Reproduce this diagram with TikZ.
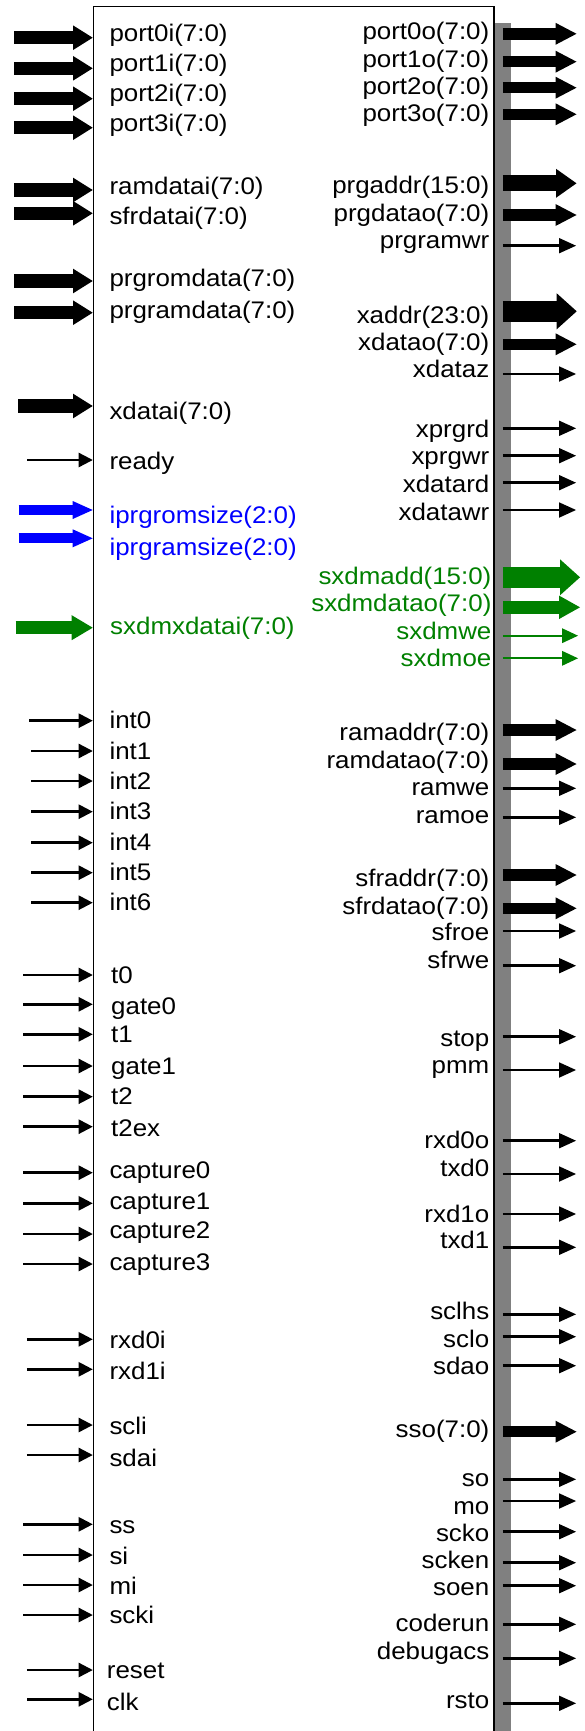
\documentclass[tikz,border=0pt]{standalone}
\usepackage{fontspec}
\setmainfont[FakeStretch=1.08]{Liberation Sans}
\usetikzlibrary{arrows.meta}

\definecolor{sigblue}{RGB}{0,0,255}
\definecolor{siggreen}{RGB}{0,128,0}
\definecolor{bargray}{RGB}{128,128,128}

\tikzset{
  lbl/.style={inner sep=0pt, text height=17.3pt, text depth=5pt, font=\fontsize{24}{28}\selectfont},
  inlbl/.style={lbl, anchor=west},
  outlbl/.style={lbl, anchor=east},
  inwire/.style={line width=2.5pt, -{Triangle[length=14pt,width=14.7pt,line width=0pt]}},
  outwire/.style={line width=2.5pt, -{Triangle[length=17pt,width=15.5pt,line width=0pt]}},
  inbus/.style={line width=13.3pt, -{Triangle[length=19.7pt,width=24.7pt,line width=0pt]}},
  outbus/.style={line width=11.5pt, -{Triangle[length=21pt,width=22pt,line width=0pt]}},
  widebus/.style={line width=16pt, -{Triangle[length=20.5pt,width=29pt,line width=0pt]}},
  hugebus/.style={line width=20.7pt, -{Triangle[length=20pt,width=36pt,line width=0pt]}}
}

\begin{document}
\begin{tikzpicture}[x=1pt,y=-1pt]
\useasboundingbox (0,0) rectangle (584,1731);
\clip (0,0) rectangle (584,1731);

% core outline and output rail
\node[fill=bargray, anchor=north west, minimum width=15.5pt, minimum height=1750pt, inner sep=0pt] (bar) at (495,23.3) {};
\node[draw, line width=1.5pt, anchor=north west, minimum width=400.6pt, minimum height=1800pt, inner sep=0pt] (box) at (92.7,6) {};

% input buses
\foreach \nm/\txt/\sx/\ay/\ty in {
  port0i/port0i(7:0)/14/37.7/35.8,
  port1i/port1i(7:0)/14/68.3/65.3,
  port2i/port2i(7:0)/14/98.7/95.3,
  port3i/port3i(7:0)/14/127.7/125.3,
  ramdatai/ramdatai(7:0)/14/190/188.7,
  sfrdatai/sfrdatai(7:0)/14/213.3/218.7,
  prgromdata/prgromdata(7:0)/14/281/280.3,
  prgramdata/prgramdata(7:0)/14/312.7/312,
  xdatai/xdatai(7:0)/18/406/413}
{
  \node[inlbl] (\nm) at (109.3,\ty) {\txt};
  \coordinate (\nm-s) at (\sx,\ay);
  \draw[inbus] (\nm-s) -- (\nm-s -| box.west);
}

\foreach \nm/\txt/\ay/\ty in {
  iprgromsize/iprgromsize(2:0)/510/517,
  iprgramsize/iprgramsize(2:0)/538.3/549.3}
{
  \node[inlbl, text=sigblue] (\nm) at (109.3,\ty) {\txt};
  \coordinate (\nm-s) at (18.6,\ay);
  \draw[sigblue, line width=10pt, -{Triangle[length=20pt,width=18pt,line width=0pt]}] (\nm-s) -- (\nm-s -| box.west);
}

\node[inlbl, text=siggreen] (sxdmxdatai) at (110,628.7) {sxdmxdatai(7:0)};
\coordinate (sxdmxdatai-s) at (15.6,627.7);
\draw[siggreen, line width=12.5pt, -{Triangle[length=21pt,width=25pt,line width=0pt]}] (sxdmxdatai-s) -- (sxdmxdatai-s -| box.west);

% single-bit inputs
\foreach \nm/\tx/\sx/\ay/\ty in {
  ready/109.3/27.3/460/463.7,
  int0/109.3/29/720.7/722,
  int1/109.3/31/751/753.7,
  int2/109.3/31/781/783,
  int3/109.3/31/811.7/813.7,
  int4/109.3/31/842.7/844.7,
  int5/109.3/31/872.7/874.7,
  int6/109.3/31/902.7/904.7,
  t0/111/23/975/977,
  gate0/111/23/1004.3/1008,
  t1/111/23/1034.3/1036.3,
  gate1/111/23/1066/1068,
  t2/111/23/1096.7/1098.7,
  t2ex/111/23/1126.7/1130,
  capture0/109.3/23/1172.7/1172,
  capture1/109.3/23/1203.3/1203.7,
  capture2/109.3/23/1234/1232.7,
  capture3/109.3/23/1264/1264.7,
  rxd0i/109.3/26.8/1339.3/1342.7,
  rxd1i/109.3/26.8/1369.3/1373.7,
  scli/109.3/26.8/1425/1428.7,
  sdai/109.3/26.8/1455/1460.3,
  ss/109.3/23/1524.3/1527,
  si/109.3/23/1555/1558,
  mi/109.3/23/1585/1588,
  scki/109.3/23/1615/1617.7,
  reset/106.7/26.8/1670/1672.7,
  clk/106.7/27.3/1699.3/1704.5}
{
  \node[inlbl] (\nm) at (\tx,\ty) {\nm};
  \coordinate (\nm-s) at (\sx,\ay);
  \draw[inwire] (\nm-s) -- (\nm-s -| box.west);
}

% output buses
\foreach \nm/\txt/\ay/\ty in {
  port0o/port0o(7:0)/33.8/33.7,
  port1o/port1o(7:0)/61.7/61.3,
  port2o/port2o(7:0)/87.7/88.7,
  port3o/port3o(7:0)/114.3/115.3,
  prgdatao/prgdatao(7:0)/215/215.3,
  xdatao/xdatao(7:0)/344.3/344.7,
  ramaddr/ramaddr(7:0)/730/734.3,
  ramdatao/ramdatao(7:0)/764/762.7,
  sfraddr/sfraddr(7:0)/875/880.3,
  sfrdatao/sfrdatao(7:0)/908.3/908.7,
  sso/sso(7:0)/1431.7/1431.3}
{
  \node[outlbl] (\nm) at (489.5,\ty) {\txt};
  \coordinate (\nm-e) at (576.5,\ay);
  \draw[outbus] (\nm-e -| bar.center) -- (\nm-e);
}

\node[outlbl] (prgaddr) at (489.5,187) {prgaddr(15:0)};
\coordinate (prgaddr-e) at (576.5,183.3);
\draw[widebus] (prgaddr-e -| bar.center) -- (prgaddr-e);

\node[outlbl] (xaddr) at (489.5,317) {xaddr(23:0)};
\coordinate (xaddr-e) at (576.7,311.3);
\draw[hugebus] (xaddr-e -| bar.center) -- (xaddr-e);

% debug bus outputs
\node[outlbl, text=siggreen] (sxdmadd) at (491.6,578.7) {sxdmadd(15:0)};
\coordinate (sxdmadd-e) at (580,577.3);
\draw[siggreen, hugebus] (sxdmadd-e -| bar.center) -- (sxdmadd-e);

\node[outlbl, text=siggreen] (sxdmdatao) at (491.6,605.3) {sxdmdatao(7:0)};
\coordinate (sxdmdatao-e) at (580,607.3);
\draw[siggreen, line width=12.5pt, -{Triangle[length=21pt,width=23.5pt,line width=0pt]}] (sxdmdatao-e -| bar.center) -- (sxdmdatao-e);

\foreach \nm/\ay/\ty in {sxdmwe/635.7/633.7, sxdmoe/658.3/660.3}
{
  \node[outlbl, text=siggreen] (\nm) at (491.6,\ty) {\nm};
  \coordinate (\nm-e) at (578,\ay);
  \draw[siggreen, line width=2pt, -{Triangle[length=16pt,width=15pt,line width=0pt]}] (\nm-e -| bar.center) -- (\nm-e);
}

% single-bit outputs
\foreach \nm/\ay/\ty in {
  prgramwr/245.7/242,
  xdataz/374/371,
  xprgrd/428.3/431.3,
  xprgwr/455.7/458.7,
  xdatard/482.7/486.3,
  xdatawr/510/514.3,
  ramwe/788.3/789.3,
  ramoe/817.3/817,
  sfroe/931/934.7,
  sfrwe/965.7/962.7,
  stop/1036.7/1040.3,
  pmm/1070/1067,
  rxd0o/1140.7/1142.7,
  txd0/1174/1170.3,
  rxd1o/1214/1216,
  txd1/1247.3/1242.7,
  sclhs/1314.3/1313.7,
  sclo/1336.7/1341,
  sdao/1365.7/1368.7,
  so/1479.3/1480.3,
  mo/1501/1508,
  scko/1531.7/1535.3,
  scken/1562.7/1562.7,
  soen/1585.7/1589.7,
  coderun/1624.3/1625.3,
  debugacs/1658.3/1653.7,
  rsto/1703.3/1702}
{
  \node[outlbl] (\nm) at (489.5,\ty) {\nm};
  \coordinate (\nm-e) at (576,\ay);
  \draw[outwire] (\nm-e -| bar.center) -- (\nm-e);
}
\end{tikzpicture}
\end{document}
